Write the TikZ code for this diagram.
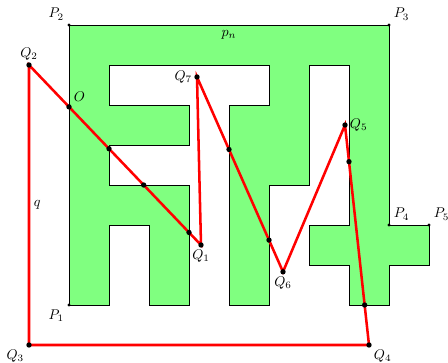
\documentclass[tikz,border=0pt]{standalone}
\usepackage{amsfonts,amsmath,amssymb}
\usepackage{xcolor}
\usepackage{tikz}
\usetikzlibrary{arrows.meta,shapes}

\begin{document}
\begin{tikzpicture}[=>stealth,
qline/.style={red,line width=1.8pt},
pdot/.style={fill=black},
qdot/.style={fill=black}]
\useasboundingbox(-1.725,-1.425)rectangle(9.475,7.625);
% polygon P
\draw[fill=green!50,semithick](0,0)coordinate(P1)--(0,7)coordinate(P2)--(8,7)coordinate(P3)--(8,2)coordinate(P4)--(9,2)coordinate(P5)--(9,1)--(8,1)--(8,0)--(7,0)--(7,1)--(6,1)--(6,2)--(7,2)--(7,6)--(6,6)--(6,3)--(5,3)--(5,0)--(4,0)--(4,5)--(5,5)--(5,6)--(1,6)--(1,5)--(3,5)--(3,4)--(1,4)--(1,3)--(3,3)--(3,0)--(2,0)--(2,2)--(1,2)--(1,0)--cycle;
\draw(4,7)node[below](pn){$p_n$};
% polygon q
\coordinate(Q1)at(3.3,1.5);
\coordinate(Q2)at(-1,6);
\coordinate(Q3)at(-1,-1);
\coordinate(Q4)at(7.5,-1);
\coordinate(Q5)at(6.9,4.5);
\coordinate(Q6)at(5.35,0.83);
\coordinate(Q7)at(3.2,5.7);
\draw[qline](Q1)--(Q2)--(Q3)--(Q4)--(Q5)--(Q6)--(Q7)--cycle;
\draw(-1,2.5)node[right](q){$q$};
% crossing points
\coordinate(O)at(0,4.953);
\coordinate(X1)at(1,3.907);
\coordinate(X2)at(1.867,3);
\coordinate(X3)at(3,1.814);
\coordinate(X4)at(4,3.888);
\coordinate(X5)at(5,1.623);
\coordinate(X6)at(7,3.583);
\coordinate(X7)at(7.391,0);
\foreach \p in {Q1,Q2,Q3,Q4,Q5,Q6,Q7,O,X1,X2,X3,X4,X5,X6,X7}
\fill[qdot](\p)circle(1.9pt);
\foreach \p in {P1,P2,P3,P4,P5}
\fill[pdot](\p)circle(1.2pt);
% labels
\draw(P1)node[below left]{$P_1$}
(P2)node[above left]{$P_2$}
(P3)node[above right]{$P_3$}
(P4)node[above right]{$P_4$}
(P5)node[above right]{$P_5$};
\draw(Q1)node[below]{$Q_1$}
(Q2)node[above]{$Q_2$}
(Q3)node[below left]{$Q_3$}
(Q4)node[below right]{$Q_4$}
(Q5)node[right]{$Q_5$}
(Q6)node[below]{$Q_6$}
(Q7)node[left]{$Q_7$}
(O)node[above right]{$O$};
\end{tikzpicture}
\end{document}
